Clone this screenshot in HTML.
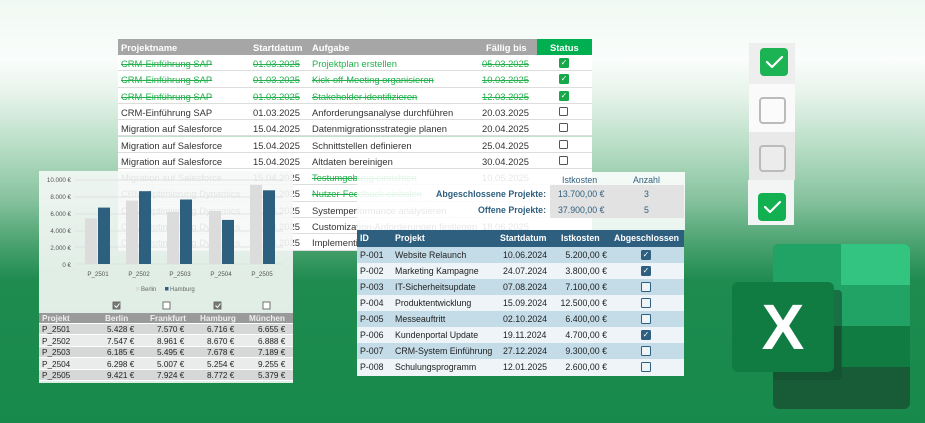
<!DOCTYPE html>
<html><head><meta charset="utf-8"><style>
*{margin:0;padding:0;box-sizing:border-box}
body{width:925px;height:423px;overflow:hidden;position:relative;font-family:"Liberation Sans",sans-serif;
background:linear-gradient(180deg,#f0f9f3 0px,#fafdfb 60px,#e6f3ea 95px,#b5dcc3 150px,#86c29e 200px,#4fa573 240px,#1f8b4f 280px,#178a4b 423px)}
.a{position:absolute;white-space:nowrap}
.t1{position:absolute;left:118px;top:39px;width:474px;font-size:9.4px;color:#333}
.t1 .r{position:absolute;left:0;width:474px;height:16.3px;border-bottom:1px solid #ddd;background:#fff}
.t1 .r span{position:absolute;top:3px}
.g{color:#22b14c;text-decoration:line-through}
.cb{position:absolute;width:9px;height:9px;border:1.3px solid #555;border-radius:1.5px;background:#fff}
.cbg{position:absolute;width:10px;height:10px;background:#17a84a;border-radius:1.5px;color:#fff;font-size:8px;line-height:10px;text-align:center}
.t3 .r{position:absolute;left:0;width:327px;height:16px;font-size:8.8px;color:#222}
.t3 .r span{position:absolute;top:3px}
.t3 .r span.rt{left:auto}
.cb3{position:absolute;width:10px;height:10px;border:1.2px solid #2f5f7f;border-radius:1.5px;background:#eef5f8}
.cb3.c{background:#2f5f7f;color:#fff;font-size:8px;line-height:8px;text-align:center}
.t2 .r{position:absolute;left:0;width:254px;height:11.5px;font-size:8.2px;color:#222;border-bottom:1px solid #fff}
.t2 .r span{position:absolute;top:1.5px}
.st{font-size:8.8px;color:#2f5f7f}
</style></head><body>

<div class="t1">
 <div class="r" style="top:0;height:16px;background:#a6a6a6;color:#fff;font-weight:bold;border:none">
  <span style="left:3px">Projektname</span><span style="left:135px">Startdatum</span><span style="left:194px">Aufgabe</span><span style="left:368px">Fällig bis</span>
  <div style="position:absolute;left:419px;top:0;width:55px;height:16px;background:#00b050"></div><span style="left:432px">Status</span>
 </div>
 <div class="r" style="top:16px"><span class="g" style="left:3px">CRM-Einführung SAP</span><span class="g" style="left:135px">01.03.2025</span><span class="g" style="left:194px;text-decoration:none">Projektplan erstellen</span><span class="g" style="left:364px">05.03.2025</span><div class="cbg" style="left:441px;top:3px">✓</div></div>
 <div class="r" style="top:32.3px"><span class="g" style="left:3px">CRM-Einführung SAP</span><span class="g" style="left:135px">01.03.2025</span><span class="g" style="left:194px">Kick-off-Meeting organisieren</span><span class="g" style="left:364px">10.03.2025</span><div class="cbg" style="left:441px;top:3px">✓</div></div>
 <div class="r" style="top:48.6px"><span class="g" style="left:3px">CRM-Einführung SAP</span><span class="g" style="left:135px">01.03.2025</span><span class="g" style="left:194px">Stakeholder identifizieren</span><span class="g" style="left:364px">12.03.2025</span><div class="cbg" style="left:441px;top:3px">✓</div></div>
 <div class="r" style="top:64.9px"><span style="left:3px">CRM-Einführung SAP</span><span style="left:135px">01.03.2025</span><span style="left:194px">Anforderungsanalyse durchführen</span><span style="left:364px">20.03.2025</span><div class="cb" style="left:441px;top:3px"></div></div>
 <div class="r" style="top:81.2px"><span style="left:3px">Migration auf Salesforce</span><span style="left:135px">15.04.2025</span><span style="left:194px">Datenmigrationsstrategie planen</span><span style="left:364px">20.04.2025</span><div class="cb" style="left:441px;top:3px"></div></div>
 <div class="r" style="top:97.5px"><span style="left:3px">Migration auf Salesforce</span><span style="left:135px">15.04.2025</span><span style="left:194px">Schnittstellen definieren</span><span style="left:364px">25.04.2025</span><div class="cb" style="left:441px;top:3px"></div></div>
 <div class="r" style="top:113.8px"><span style="left:3px">Migration auf Salesforce</span><span style="left:135px">15.04.2025</span><span style="left:194px">Altdaten bereinigen</span><span style="left:364px">30.04.2025</span><div class="cb" style="left:441px;top:3px"></div></div>
 <div class="r" style="top:130.1px"><span style="left:3px">Migration auf Salesforce</span><span style="left:135px">15.04.2025</span><span class="g" style="left:194px">Testumgebung einrichten</span><span style="left:364px">10.05.2025</span></div>
 <div class="r" style="top:146.4px"><span style="left:3px">CRM-Optimierung Dynamics</span><span style="left:135px">01.06.2025</span><span class="g" style="left:194px">Nutzer-Feedback einholen</span></div>
 <div class="r" style="top:162.7px"><span style="left:3px">CRM-Optimierung Dynamics</span><span style="left:135px">01.06.2025</span><span style="left:194px">Systemperformance analysieren</span></div>
 <div class="r" style="top:179px"><span style="left:3px">CRM-Optimierung Dynamics</span><span style="left:135px">01.06.2025</span><span style="left:194px">Customization-Anforderungen festlegen</span><span style="left:364px">18.06.2025</span></div>
 <div class="r" style="top:195.3px"><span style="left:3px">CRM-Optimierung Dynamics</span><span style="left:135px">01.06.2025</span><span style="left:194px">Implementierung und Tests</span><span style="left:364px">30.06.2025</span></div>
</div>

<div class="a" style="left:357px;top:172px;width:328px;height:58px;background:rgba(255,255,255,0.88)"></div>
<div class="a" style="left:550px;top:185px;width:134px;height:33px;background:#e2e2e2"></div>
<div class="a st" style="left:562px;top:175px">Istkosten</div>
<div class="a st" style="left:633px;top:175px">Anzahl</div>
<div class="a st" style="right:379px;top:189px;font-weight:bold">Abgeschlossene Projekte:</div>
<div class="a st" style="right:379px;top:205px;font-weight:bold">Offene Projekte:</div>
<div class="a st" style="left:558px;top:189px">13.700,00 €</div>
<div class="a st" style="left:558px;top:205px">37.900,00 €</div>
<div class="a st" style="left:644px;top:189px">3</div>
<div class="a st" style="left:644px;top:205px">5</div>

<div class="a t3" style="left:357px;top:230px;width:327px;height:146px;background:#eef4f7">
 <div class="r" style="top:0;height:17px;background:#2f5f7f;color:#fff;font-weight:bold"><span style="left:3px">ID</span><span style="left:38px">Projekt</span><span style="left:143px">Startdatum</span><span style="left:204px">Istkosten</span><span style="left:257px">Abgeschlossen</span></div>
 <div class="r" style="top:17px;background:#c4dce8"><span style="left:3px">P-001</span><span style="left:38px">Website Relaunch</span><span style="left:146px">10.06.2024</span><span style="right:77px">5.200,00 €</span><div class="cb3 c" style="left:284px;top:3px">✓</div></div>
 <div class="r" style="top:33px"><span style="left:3px">P-002</span><span style="left:38px">Marketing Kampagne</span><span style="left:146px">24.07.2024</span><span style="right:77px">3.800,00 €</span><div class="cb3 c" style="left:284px;top:3px">✓</div></div>
 <div class="r" style="top:49px;background:#c4dce8"><span style="left:3px">P-003</span><span style="left:38px">IT-Sicherheitsupdate</span><span style="left:146px">07.08.2024</span><span style="right:77px">7.100,00 €</span><div class="cb3" style="left:284px;top:3px"></div></div>
 <div class="r" style="top:65px"><span style="left:3px">P-004</span><span style="left:38px">Produktentwicklung</span><span style="left:146px">15.09.2024</span><span style="right:77px">12.500,00 €</span><div class="cb3" style="left:284px;top:3px"></div></div>
 <div class="r" style="top:81px;background:#c4dce8"><span style="left:3px">P-005</span><span style="left:38px">Messeauftritt</span><span style="left:146px">02.10.2024</span><span style="right:77px">6.400,00 €</span><div class="cb3" style="left:284px;top:3px"></div></div>
 <div class="r" style="top:97px"><span style="left:3px">P-006</span><span style="left:38px">Kundenportal Update</span><span style="left:146px">19.11.2024</span><span style="right:77px">4.700,00 €</span><div class="cb3 c" style="left:284px;top:3px">✓</div></div>
 <div class="r" style="top:113px;background:#c4dce8"><span style="left:3px">P-007</span><span style="left:38px">CRM-System Einführung</span><span style="left:146px">27.12.2024</span><span style="right:77px">9.300,00 €</span><div class="cb3" style="left:284px;top:3px"></div></div>
 <div class="r" style="top:129px"><span style="left:3px">P-008</span><span style="left:38px">Schulungsprogramm</span><span style="left:146px">12.01.2025</span><span style="right:77px">2.600,00 €</span><div class="cb3" style="left:284px;top:3px"></div></div>
</div>

<div class="a" style="left:39px;top:171px;width:254px;height:212px;background:rgba(245,248,246,0.9)"></div>
<svg class="a" style="left:0;top:0" width="300" height="423">
 <g font-family="Liberation Sans" font-size="6.2" fill="#555" text-anchor="end">
  <text x="71" y="182">10.000 €</text><text x="71" y="199">8.000 €</text><text x="71" y="216">6.000 €</text><text x="71" y="233">4.000 €</text><text x="71" y="250">2.000 €</text><text x="71" y="267">0 €</text>
 </g>
 <g stroke="#ddd" stroke-width="0.8">
  <line x1="75" y1="180" x2="283" y2="180"/><line x1="75" y1="197" x2="283" y2="197"/><line x1="75" y1="214" x2="283" y2="214"/><line x1="75" y1="231" x2="283" y2="231"/><line x1="75" y1="247" x2="283" y2="247"/><line x1="75" y1="264" x2="283" y2="264"/>
 </g>
 <g fill="#dcdcdc"><rect x="85" y="218.4" width="12" height="45.6"/><rect x="126" y="200.6" width="12" height="63.4"/><rect x="167" y="212" width="12" height="52"/><rect x="209" y="211" width="12" height="53"/><rect x="250" y="184.9" width="12" height="79.1"/></g>
 <g fill="#2d5f7e"><rect x="98" y="207.6" width="12" height="56.4"/><rect x="139" y="191.2" width="12" height="72.8"/><rect x="180" y="199.5" width="12" height="64.5"/><rect x="222" y="219.9" width="12" height="44.1"/><rect x="263" y="190.3" width="12" height="73.7"/></g>
 <g font-family="Liberation Sans" font-size="6.2" fill="#555" text-anchor="middle">
  <text x="98" y="276">P_2501</text><text x="139" y="276">P_2502</text><text x="180" y="276">P_2503</text><text x="221" y="276">P_2504</text><text x="262" y="276">P_2505</text>
 </g>
 <rect x="136" y="287" width="3.5" height="3.5" fill="#dcdcdc"/><text x="141" y="291" font-family="Liberation Sans" font-size="6" fill="#666">Berlin</text>
 <rect x="165" y="287" width="3.5" height="3.5" fill="#2d5f7e"/><text x="170" y="291" font-family="Liberation Sans" font-size="6" fill="#666">Hamburg</text>
 <g stroke="#666" stroke-width="0.9"><rect x="113" y="302" width="7" height="7" fill="#777"/><rect x="163" y="302" width="7" height="7" fill="#fff"/><rect x="214" y="302" width="7" height="7" fill="#777"/><rect x="263" y="302" width="7" height="7" fill="#fff"/></g>
 <g stroke="#fff" stroke-width="1" fill="none"><path d="M114.5 305.5l2 2 3-4"/><path d="M215.5 305.5l2 2 3-4"/></g>
</svg>
<div class="a t2" style="left:39px;top:313px;width:254px;height:70px">
 <div class="r" style="top:0;height:10.5px;background:#9a9a9a;color:#eee;font-weight:bold"><span style="left:3px;top:0.5px">Projekt</span><span style="left:66px;top:0.5px">Berlin</span><span style="left:111px;top:0.5px">Frankfurt</span><span style="left:161px;top:0.5px">Hamburg</span><span style="left:210px;top:0.5px">München</span></div>
 <div class="r" style="top:10.5px;background:#d6d8d7"><span style="left:3px">P_2501</span><span style="left:68px">5.428 €</span><span style="left:118px">7.570 €</span><span style="left:168px">6.716 €</span><span style="left:219px">6.655 €</span></div>
 <div class="r" style="top:22px;background:#e9ecea"><span style="left:3px">P_2502</span><span style="left:68px">7.547 €</span><span style="left:118px">8.961 €</span><span style="left:168px">8.670 €</span><span style="left:219px">6.888 €</span></div>
 <div class="r" style="top:33.5px;background:#d6d8d7"><span style="left:3px">P_2503</span><span style="left:68px">6.185 €</span><span style="left:118px">5.495 €</span><span style="left:168px">7.678 €</span><span style="left:219px">7.189 €</span></div>
 <div class="r" style="top:45px;background:#e9ecea"><span style="left:3px">P_2504</span><span style="left:68px">6.298 €</span><span style="left:118px">5.007 €</span><span style="left:168px">5.254 €</span><span style="left:219px">9.255 €</span></div>
 <div class="r" style="top:56.5px;background:#d6d8d7"><span style="left:3px">P_2505</span><span style="left:68px">9.421 €</span><span style="left:118px">7.924 €</span><span style="left:168px">8.772 €</span><span style="left:219px">5.379 €</span></div>
</div>

<div class="a" style="left:749px;top:43px;width:46px;height:41px;background:#eee"></div>
<div class="a" style="left:749px;top:84px;width:46px;height:48px;background:#fafafa"></div>
<div class="a" style="left:749px;top:132px;width:46px;height:48px;background:#e9e9e9"></div>
<div class="a" style="left:748px;top:180px;width:46px;height:45px;background:#f3f5f4"></div>
<div class="a" style="left:760px;top:48px;width:28px;height:28px;background:#1cb355;border-radius:4px"></div>
<div class="a" style="left:759px;top:97px;width:27px;height:27px;border:2.5px solid #bbb;border-radius:4px;background:#fbfbfb"></div>
<div class="a" style="left:759px;top:145px;width:27px;height:27px;border:2.5px solid #bbb;border-radius:4px;background:#ececec"></div>
<div class="a" style="left:758px;top:193px;width:28px;height:28px;background:#12b050;border-radius:4px"></div>
<svg class="a" style="left:0;top:0" width="925" height="423"><g stroke="#fff" stroke-width="2.2" fill="none" stroke-linecap="round" stroke-linejoin="round"><path d="M767 62l5 5 10-10"/><path d="M765 207l5 5 10-10"/></g></svg>

<div class="a" style="left:773px;top:244px;width:137px;height:165px;border-radius:6px;overflow:hidden;background:#185c37">
 <div class="a" style="left:0;top:0;width:68px;height:82px;background:#21a366"></div>
 <div class="a" style="left:68px;top:0;width:69px;height:41px;background:#33c481"></div>
 <div class="a" style="left:68px;top:41px;width:69px;height:41px;background:#21a366"></div>
 <div class="a" style="left:0;top:82px;width:137px;height:41px;background:#107c41"></div>
 <div class="a" style="left:0;top:82px;width:68px;height:41px;background:#185c37"></div>
</div>
<div class="a" style="left:773px;top:290px;width:69px;height:90px;background:#124f2e;border-radius:4px;opacity:.6"></div>
<div class="a" style="left:732px;top:282px;width:102px;height:90px;background:#107c41;border-radius:6px;color:#fff;font-size:64px;font-weight:bold;line-height:90px;text-align:center">X</div>
</body></html>
